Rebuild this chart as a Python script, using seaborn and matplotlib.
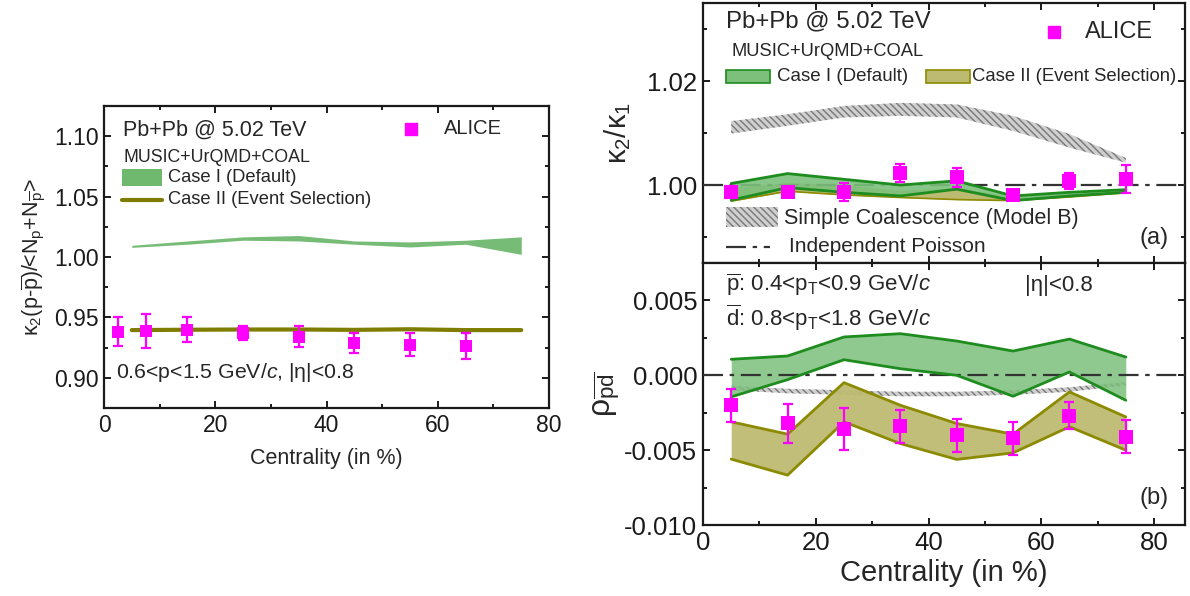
import numpy as np
import seaborn as sns
import matplotlib.pyplot as plt
from matplotlib.patches import Rectangle
from matplotlib.lines import Line2D
from matplotlib.ticker import MultipleLocator

sns.set_theme(style='ticks')
plt.rcParams['font.family'] = ['Liberation Sans', 'DejaVu Sans']
plt.rcParams['mathtext.fontset'] = 'custom'
plt.rcParams['mathtext.rm'] = 'Liberation Sans'
plt.rcParams['mathtext.it'] = 'Liberation Sans:italic'
plt.rcParams['mathtext.bf'] = 'Liberation Sans:bold'
plt.rcParams['axes.linewidth'] = 1.6
plt.rcParams['axes.edgecolor'] = '#1a1a1a'

# ---- data: left panel (net-proton kappa2 ratio) ----
cent_alice_l = [2.5, 7.5, 15, 25, 35, 45, 55, 65]
alice_l = [0.938, 0.939, 0.940, 0.937, 0.934, 0.929, 0.9275, 0.9265]
alice_l_err = [0.012, 0.014, 0.010, 0.006, 0.0085, 0.0083, 0.0097, 0.011]
cent_model = [5, 15, 25, 35, 45, 55, 65, 75]
case1_l_hi = [1.0097, 1.0133, 1.0167, 1.0178, 1.0133, 1.0125, 1.0139, 1.0167]
case1_l_lo = [1.0080, 1.0106, 1.0139, 1.0133, 1.0106, 1.0083, 1.0106, 1.0022]
case2_l = [0.9395, 0.9398, 0.9400, 0.9400, 0.9397, 0.9402, 0.9395, 0.9395]

# ---- data: right panel (a) kappa2/kappa1 ----
cent_alice_r = [5, 15, 25, 35, 45, 55, 65, 75]
alice_a = [0.9987, 0.9986, 0.9987, 1.0023, 1.0015, 0.9981, 1.0008, 1.0012]
alice_a_err = [0.0012, 0.0006, 0.0017, 0.0018, 0.0018, 0.0007, 0.0016, 0.0027]
coal_a_hi = [1.0123, 1.0136, 1.0152, 1.0158, 1.0155, 1.0133, 1.0098, 1.0052]
coal_a_lo = [1.0099, 1.0114, 1.0130, 1.0133, 1.0130, 1.0104, 1.0072, 1.0043]
case1_a_hi = [1.0003, 1.0022, 1.0011, 1.0000, 1.0008, 0.9979, 0.9986, 0.9991]
case1_a_lo = [0.9971, 0.9995, 0.9986, 0.9979, 0.9992, 0.9970, 0.9979, 0.9986]
case2_a_hi = [0.9995, 1.0005, 1.0000, 0.9990, 0.9995, 0.9978, 0.9984, 0.9989]
case2_a_lo = [0.9969, 0.9988, 0.9981, 0.9976, 0.9972, 0.9970, 0.9977, 0.9985]

# ---- data: right panel (b) rho_pd ----
alice_b = [-0.0020, -0.0032, -0.0036, -0.0034, -0.0040, -0.0042, -0.0027, -0.0041]
alice_b_err = [0.0011, 0.0013, 0.0014, 0.0011, 0.0011, 0.0011, 0.0009, 0.0011]
case1_b_hi = [0.00107, 0.00129, 0.00256, 0.00278, 0.00229, 0.00162, 0.00242, 0.00122]
case1_b_lo = [-0.00144, -0.00029, 0.00104, 0.00044, 0.0, -0.0014, 0.00022, -0.00167]
case2_b_hi = [-0.00311, -0.00393, -0.00049, -0.0020, -0.00322, -0.00393, -0.00111, -0.00278]
case2_b_lo = [-0.0056, -0.00667, -0.00311, -0.00456, -0.00562, -0.00518, -0.00344, -0.0050]
coal_b_hi = [-0.0007, -0.0009, -0.0010, -0.0011, -0.0011, -0.0010, -0.0008, -0.00045]
coal_b_lo = [-0.0010, -0.0012, -0.0013, -0.0014, -0.0014, -0.0013, -0.0011, -0.00067]

MAG = '#ff00ff'
GREEN_FILL = '#7cc07c'
GREEN_EDGE = '#1e8c1e'
OLIVE_FILL = '#bdbb72'
OLIVE_EDGE = '#8c8a00'
POISSON = '#333333'
HATCH_FACE = '#cfcfcf'
HATCH_LINE = '#777777'
DASHDOT = (0, (9, 3, 2, 3))

fig = plt.figure(figsize=(11.9, 5.96), dpi=100)
axl = fig.add_axes([0.0874, 0.3154, 0.374, 0.5067])
axa = fig.add_axes([0.5908, 0.5587, 0.4050, 0.4362])
axb = fig.add_axes([0.5908, 0.1191, 0.4050, 0.4396], sharex=axa)


def alice_points(ax, x, y, err, ms=9):
    ax.errorbar(x, y, yerr=err, fmt='none', ecolor=MAG, elinewidth=1.6,
                capsize=3.5, capthick=1.6, zorder=5)
    sns.scatterplot(x=x, y=y, ax=ax, marker='s', s=ms ** 2, color=MAG,
                    edgecolor=MAG, linewidth=0, zorder=6, legend=False)


def style_ticks(ax, size):
    ax.tick_params(which='both', direction='in', top=True, right=True,
                   width=1.4, labelsize=size, colors='#1a1a1a', pad=4)
    ax.tick_params(which='major', length=5)
    ax.tick_params(which='minor', length=3)
    ax.xaxis.set_minor_locator(MultipleLocator(10))


# ================= left panel =================
axl.fill_between(cent_model, case1_l_lo, case1_l_hi, color='#6fb96f',
                 alpha=0.95, linewidth=0, zorder=2)
sns.lineplot(x=cent_model, y=case2_l, ax=axl, color='#7f7d00', linewidth=3,
             zorder=3)
alice_points(axl, cent_alice_l, alice_l, alice_l_err, ms=9)
axl.set_xlim(0, 80)
axl.set_ylim(0.875, 1.125)
axl.xaxis.set_major_locator(MultipleLocator(20))
axl.yaxis.set_major_locator(MultipleLocator(0.05))
axl.yaxis.set_minor_locator(MultipleLocator(0.025))
axl.yaxis.set_major_formatter(plt.FormatStrFormatter('%.2f'))
style_ticks(axl, 16.5)
axl.set_xlabel('Centrality (in %)', fontsize=15.5, labelpad=8)
axl.set_ylabel(r'κ$_2$(p-$\overline{\rm p}$)/<N$_{\rm p}$+N$_{\overline{\rm p}}$>',
               fontsize=15.5, labelpad=5)

axl.text(0.043, 0.92, 'Pb+Pb @ 5.02 TeV', transform=axl.transAxes,
         fontsize=15.5, va='center')
axl.plot([0.69], [0.925], 's', color=MAG, ms=8, transform=axl.transAxes)
axl.text(0.763, 0.925, 'ALICE', transform=axl.transAxes, fontsize=14.5,
         va='center')
axl.text(0.043, 0.83, 'MUSIC+UrQMD+COAL', transform=axl.transAxes,
         fontsize=12.8, va='center')
axl.add_patch(Rectangle((0.04, 0.735), 0.09, 0.055, transform=axl.transAxes,
                        color='#6fb96f', linewidth=0))
axl.text(0.144, 0.762, 'Case I (Default)', transform=axl.transAxes,
         fontsize=13.2, va='center')
axl.add_line(Line2D([0.04, 0.13], [0.689, 0.689], transform=axl.transAxes,
                    color='#7f7d00', linewidth=3))
axl.text(0.144, 0.689, 'Case II (Event Selection)', transform=axl.transAxes,
         fontsize=13.2, va='center')
axl.text(0.027, 0.116, r'0.6<p<1.5 GeV/$c$, |η|<0.8', transform=axl.transAxes,
         fontsize=15.3, va='center')

# ================= right panel (a) =================
axa.fill_between(cent_model, coal_a_lo, coal_a_hi, facecolor=HATCH_FACE,
                 edgecolor=HATCH_LINE, hatch='\\\\\\\\\\', linewidth=0, zorder=2)
axa.fill_between(cent_model, case2_a_lo, case2_a_hi, color=OLIVE_FILL,
                 linewidth=0, zorder=3)
axa.plot(cent_model, case2_a_lo, color=OLIVE_EDGE, linewidth=1.2, zorder=3)
axa.fill_between(cent_model, case1_a_lo, case1_a_hi, color=GREEN_FILL,
                 alpha=0.9, linewidth=0, zorder=4)
sns.lineplot(x=cent_model, y=case1_a_hi, ax=axa, color=GREEN_EDGE,
             linewidth=2, zorder=4)
sns.lineplot(x=cent_model, y=case1_a_lo, ax=axa, color=GREEN_EDGE,
             linewidth=2, zorder=4)
axa.axhline(1.0, color=POISSON, linestyle=DASHDOT, linewidth=1.6, zorder=3.5)
alice_points(axa, cent_alice_r, alice_a, alice_a_err, ms=10)
axa.set_xlim(0, 85.5)
axa.set_ylim(0.985, 1.035)
axa.xaxis.set_major_locator(MultipleLocator(20))
axa.yaxis.set_major_locator(MultipleLocator(0.02))
axa.yaxis.set_minor_locator(MultipleLocator(0.01))
axa.yaxis.set_major_formatter(plt.FormatStrFormatter('%.2f'))
style_ticks(axa, 18.5)
axa.tick_params(labelbottom=False)
axa.set_ylabel(r'κ$_2$/κ$_1$', fontsize=21, labelpad=10)

axa.text(0.047, 0.928, 'Pb+Pb @ 5.02 TeV', transform=axa.transAxes,
         fontsize=17.3, va='center')
axa.plot([0.729], [0.887], 's', color=MAG, ms=9, transform=axa.transAxes)
axa.text(0.793, 0.887, 'ALICE', transform=axa.transAxes, fontsize=17,
         va='center')
axa.text(0.06, 0.813, 'MUSIC+UrQMD+COAL', transform=axa.transAxes,
         fontsize=13.2, va='center')
axa.add_patch(Rectangle((0.048, 0.692), 0.09, 0.052, transform=axa.transAxes,
                        facecolor=GREEN_FILL, edgecolor=GREEN_EDGE, lw=1.2))
axa.text(0.154, 0.717, 'Case I (Default)', transform=axa.transAxes,
         fontsize=13.5, va='center')
axa.add_patch(Rectangle((0.463, 0.692), 0.09, 0.052, transform=axa.transAxes,
                        facecolor=OLIVE_FILL, edgecolor=OLIVE_EDGE, lw=1.2))
axa.text(0.559, 0.717, 'Case II (Event Selection)', transform=axa.transAxes,
         fontsize=13.3, va='center')
axa.add_patch(Rectangle((0.048, 0.14), 0.107, 0.075, transform=axa.transAxes,
                        facecolor=HATCH_FACE, edgecolor=HATCH_LINE,
                        hatch='\\\\\\\\\\', lw=0))
axa.text(0.168, 0.172, 'Simple Coalescence (Model B)',
         transform=axa.transAxes, fontsize=15.5, va='center')
axa.add_line(Line2D([0.048, 0.138], [0.063, 0.063], transform=axa.transAxes,
                    color=POISSON, linestyle=DASHDOT, linewidth=1.6))
axa.text(0.178, 0.063, 'Independent Poisson', transform=axa.transAxes,
         fontsize=15, va='center')
axa.text(0.965, 0.096, '(a)', transform=axa.transAxes, fontsize=17,
         va='center', ha='right')

# ================= right panel (b) =================
axb.fill_between(cent_model, coal_b_lo, coal_b_hi, facecolor=HATCH_FACE,
                 edgecolor=HATCH_LINE, hatch='\\\\\\\\\\', linewidth=0, zorder=2)
axb.fill_between(cent_model, case1_b_lo, case1_b_hi, color=GREEN_FILL,
                 alpha=0.85, linewidth=0, zorder=3)
sns.lineplot(x=cent_model, y=case1_b_hi, ax=axb, color=GREEN_EDGE,
             linewidth=2, zorder=4)
sns.lineplot(x=cent_model, y=case1_b_lo, ax=axb, color=GREEN_EDGE,
             linewidth=2, zorder=4)
axb.fill_between(cent_model, case2_b_lo, case2_b_hi, color=OLIVE_FILL,
                 alpha=0.95, linewidth=0, zorder=3)
sns.lineplot(x=cent_model, y=case2_b_hi, ax=axb, color=OLIVE_EDGE,
             linewidth=2, zorder=4)
sns.lineplot(x=cent_model, y=case2_b_lo, ax=axb, color=OLIVE_EDGE,
             linewidth=2, zorder=4)
axb.axhline(0.0, color=POISSON, linestyle=DASHDOT, linewidth=1.6, zorder=3.5)
alice_points(axb, cent_alice_r, alice_b, alice_b_err, ms=10)
axb.set_xlim(0, 85.5)
axb.set_ylim(-0.010, 0.0075)
axb.yaxis.set_major_locator(MultipleLocator(0.005))
axb.yaxis.set_minor_locator(MultipleLocator(0.0025))
axb.yaxis.set_major_formatter(plt.FormatStrFormatter('%.3f'))
style_ticks(axb, 18.5)
axb.set_xlabel('Centrality (in %)', fontsize=21, labelpad=3)
axb.set_ylabel(r'ρ$_{\overline{\rm pd}}$', fontsize=23, labelpad=2)

axb.text(0.048, 0.916, r'$\overline{\rm p}$: 0.4<p$_{\rm T}$<0.9 GeV/$c$',
         transform=axb.transAxes, fontsize=16, va='center')
axb.text(0.048, 0.79, r'$\overline{\rm d}$: 0.8<p$_{\rm T}$<1.8 GeV/$c$',
         transform=axb.transAxes, fontsize=16, va='center')
axb.text(0.667, 0.916, '|η|<0.8', transform=axb.transAxes, fontsize=16,
         va='center')
axb.text(0.965, 0.103, '(b)', transform=axb.transAxes, fontsize=17,
         va='center', ha='right')

fig.savefig('out.png', dpi=100)
